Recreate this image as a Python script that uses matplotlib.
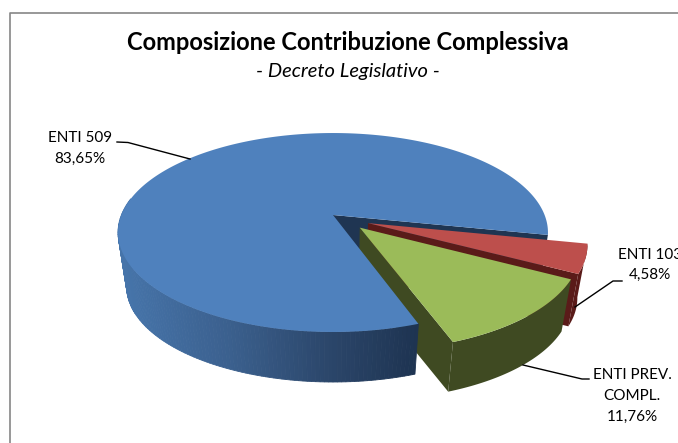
import numpy as np
import matplotlib
matplotlib.use('Agg')
import matplotlib.pyplot as plt

categories = ['ENTI 509', 'ENTI PREV.\nCOMPL.', 'ENTI 103']
shares = [83.65, 11.76, 4.58]
title = 'Composizione Contribuzione Complessiva'
subtitle = '- Decreto Legislativo -'

plt.rcParams['font.family'] = ['Lato', 'DejaVu Sans']

# perspective of the pie: disc plane -> pixel coordinates
CX, CY = 333, 215
A, B, K = 211.6, 96.4, 0.176
BOTTOM_Y, BOTTOM_SCALE = 269.7, 0.96
START_ANGLE = -11.5
# how far each pulled out slice moves, and in which direction
EXPLODE_GREEN = (0.178, -46)
EXPLODE_RED = (0.183, -27)


def project(u, v, bottom=False):
    w = 1 + K * v
    x = A * u / w
    y = -B * v / w
    if bottom:
        return CX + BOTTOM_SCALE * x, BOTTOM_Y + BOTTOM_SCALE * y
    return CX + x, CY + y


def rim(a0, a1, offset=(0, 0), bottom=False):
    t = np.radians(np.linspace(a0, a1, max(int(abs(a1 - a0) * 2), 2)))
    return project(np.cos(t) + offset[0], np.sin(t) + offset[1], bottom)


def top_face(a0, a1, offset=(0, 0)):
    x, y = rim(a0, a1, offset)
    ax0, ay0 = project(offset[0], offset[1])
    return np.r_[ax0, x], np.r_[ay0, y]


def radial_wall(angle, offset=(0, 0)):
    t = np.radians(angle)
    us = np.array([offset[0], offset[0] + np.cos(t)])
    vs = np.array([offset[1], offset[1] + np.sin(t)])
    x0, y0 = project(us, vs)
    x1, y1 = project(us, vs, True)
    return np.r_[x0, x1[::-1]], np.r_[y0, y1[::-1]]


def outer_wall(a0, a1, offset=(0, 0)):
    x0, y0 = rim(a0, a1, offset)
    x1, y1 = rim(a0, a1, offset, True)
    return np.r_[x0, x1[::-1]], np.r_[y0, y1[::-1]]


def explode_offset(dist, angle):
    t = np.radians(angle)
    return dist * np.cos(t), dist * np.sin(t)


fig = plt.figure(figsize=(6.78, 4.43), dpi=100)
ax = fig.add_axes([0, 0, 1, 1])
ax.set_xlim(0, 678)
ax.set_ylim(443, 0)
ax.axis('off')

# chart frame, only left and top are inside the image
ax.plot([9.5, 9.5, 678], [443, 12.5, 12.5], color='#868686', lw=1.2)

# slices go counter clockwise: blue, green, red
spans = np.array(shares) / np.sum(shares) * 360
a_blue0 = START_ANGLE
a_blue1 = a_blue0 + spans[0]
a_green0 = a_blue1 - 360
a_green1 = a_green0 + spans[1]
a_red0 = a_green1
a_red1 = a_red0 + spans[2]

off_green = explode_offset(*EXPLODE_GREEN)
off_red = explode_offset(*EXPLODE_RED)

# inner wall of the big slice, seen through the gap
ax.fill(*radial_wall(a_blue0), color='#1F3552', lw=0)

# red slice
ax.fill(*radial_wall(a_red0, off_red), color='#5A1B19', lw=0)
ax.fill(*outer_wall(a_red0, a_red1, off_red), color='#5A1B19', lw=0)
ax.fill(*top_face(a_red0, a_red1, off_red), color='#BD4F4C', lw=0)

# green walls go behind the blue slice
ax.fill(*radial_wall(a_green0, off_green), color='#3F4A22', lw=0)
ax.fill(*outer_wall(a_green0, a_green1, off_green), color='#3F4A22', lw=0)

# blue outer wall, shaded in thin strips from left to right
stops_x = [118, 230, 330, 415]
stops_rgb = np.array([[0x47, 0x76, 0xAC], [0x3B, 0x60, 0x8E], [0x2B, 0x46, 0x6A], [0x1E, 0x34, 0x52]]) / 255
edges = np.arange(170, a_blue1, 1.0)
edges = np.r_[edges, a_blue1]
for a0, a1 in zip(edges[:-1], edges[1:]):
    xs, ys = outer_wall(a0, a1)
    c = [np.interp(xs.mean(), stops_x, stops_rgb[:, i]) for i in range(3)]
    ax.fill(xs, ys, color=c, lw=0.6, ec=c)

ax.fill(*top_face(a_blue0, a_blue1), color='#4F81BD', lw=0)

ax.fill(*top_face(a_green0, a_green1, off_green), color='#9BBB59', lw=0)

# leader lines
ax.plot([117, 128, 190], [142, 142.5, 159], color='black', lw=1)
ax.plot([622, 613, 575], [281, 281, 307], color='black', lw=1)
ax.plot([589, 582, 523], [379, 379, 365], color='black', lw=1)

ax.text(347.5, 42, title, ha='center', va='center', fontsize=17, fontweight='bold', color='black')
ax.text(348, 71, subtitle, ha='center', va='center', fontsize=14.5, style='italic', color='black')


def pct(v):
    return f'{v:.2f}%'.replace('.', ',')


ax.text(80, 148.5, f'{categories[0]}\n{pct(shares[0])}', ha='center', va='center', fontsize=11, linespacing=1.6)
ax.text(632, 396, f'{categories[1]}\n{pct(shares[1])}', ha='center', va='center', fontsize=11, linespacing=1.6)
ax.text(650, 265, f'{categories[2]}\n{pct(shares[2])}', ha='center', va='center', fontsize=11, linespacing=1.6)

fig.savefig('out.png', dpi=100)
